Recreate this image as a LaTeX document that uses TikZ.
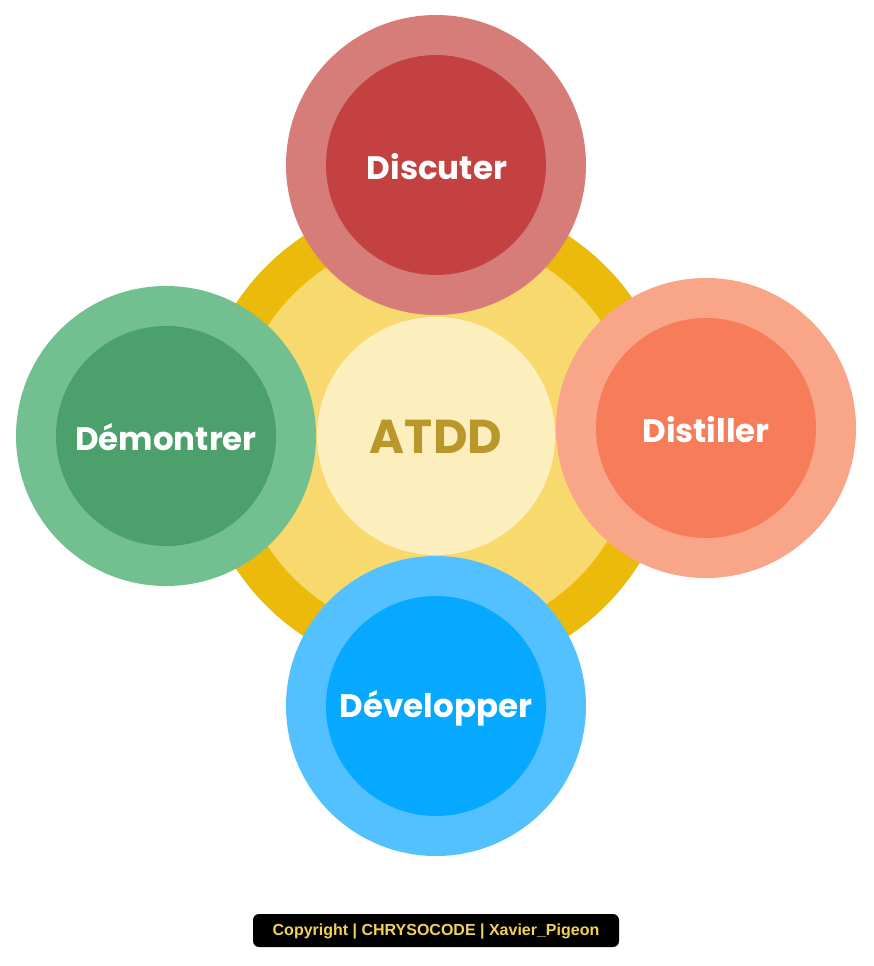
\documentclass[tikz,border=0pt]{standalone}
\usepackage{fontspec}
\newfontfamily\popf{Poppins}
\newfontfamily\arialf{Liberation Sans}
\definecolor{ringdark}{HTML}{EBBA0A}
\definecolor{ringmid}{HTML}{F8D96D}
\definecolor{ringlight}{HTML}{FDEEBD}
\definecolor{atddtext}{HTML}{B9972A}
\definecolor{redout}{HTML}{D67D7A}
\definecolor{redin}{HTML}{C34241}
\definecolor{orout}{HTML}{F8A588}
\definecolor{orin}{HTML}{F67C5A}
\definecolor{grout}{HTML}{72BF8F}
\definecolor{grin}{HTML}{4BA06B}
\definecolor{blout}{HTML}{53C0FF}
\definecolor{blin}{HTML}{06A9FF}
\definecolor{copytext}{HTML}{F2D15A}
\begin{document}
\begin{tikzpicture}[x=1pt,y=-1pt,
  disc/.style={circle,draw=none,inner sep=0pt,minimum size=#1},
  lbl/.style={inner sep=0pt,text=white,font=\popf\bfseries\fontsize{32.5}{36}\selectfont},
]
\useasboundingbox (0,0) rectangle (874,966);
% central rings
\node[disc=480pt,fill=ringdark] (ring) at (436,436) {};
\node[disc=402pt,fill=ringmid] (mid) at (436,436) {};
\node[disc=238pt,fill=ringlight] (centre) at (436,436) {};
\node[inner sep=0pt,text=atddtext,font=\popf\bfseries\fontsize{47.5}{52}\selectfont] (atdd) at (436,437) {ATDD};
% top
\node[disc=300pt,fill=redout] (topo) at (436,165) {};
\node[disc=220pt,fill=redin] (topi) at (436,165) {};
\node[lbl] (toptxt) at (437,167) {Discuter};
% left
\node[disc=300pt,fill=grout] (lefto) at (166,436) {};
\node[disc=220pt,fill=grin] (lefti) at (166,436) {};
\node[lbl] (lefttxt) at (166,437) {Démontrer};
% right
\node[disc=300pt,fill=orout] (righto) at (706,428) {};
\node[disc=220pt,fill=orin] (righti) at (706,428) {};
\node[lbl] (righttxt) at (706,430) {Distiller};
% bottom
\node[disc=300pt,fill=blout] (boto) at (436,706) {};
\node[disc=220pt,fill=blin] (boti) at (436,706) {};
\node[lbl] (bottxt) at (436,708) {Développer};
% copyright
\node[fill=black,rounded corners=6pt,minimum width=366pt,minimum height=33pt,inner sep=0pt] (copy) at (436,930.5) {};
\node[inner sep=0pt,text=copytext,font=\arialf\bfseries\fontsize{16}{18}\selectfont] (copytxt) at (436,931.5) {Copyright | CHRYSOCODE | Xavier\_Pigeon};
\end{tikzpicture}
\end{document}
